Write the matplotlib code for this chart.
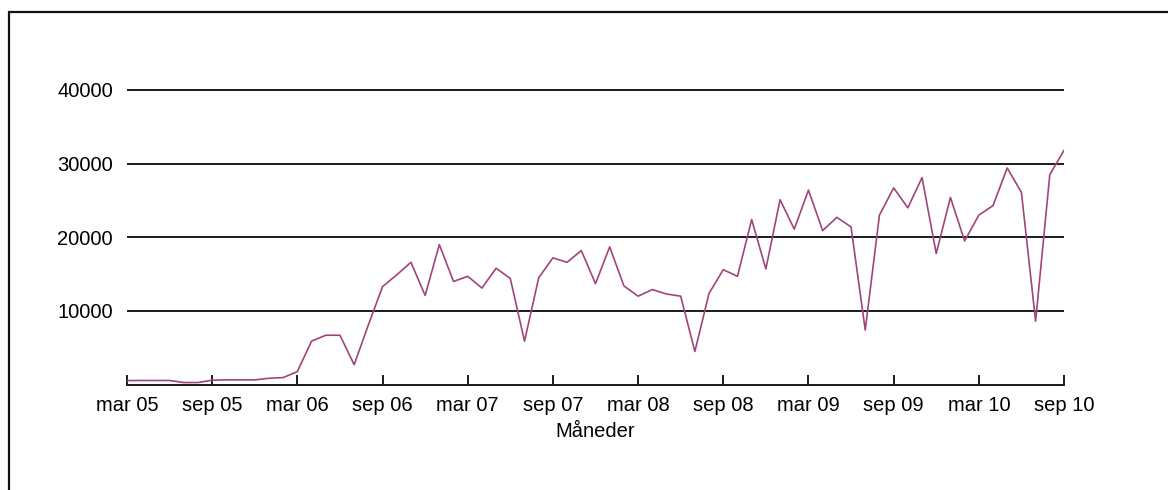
import numpy as np
import matplotlib
matplotlib.use("Agg")
import matplotlib.pyplot as plt
from matplotlib.patches import Rectangle

plt.rcParams['font.family'] = ['Liberation Sans', 'DejaVu Sans']

#   monthly values, mar 05 .. sep 10
values = [540, 560, 560, 560, 280, 280, 600, 640, 640, 640,
          860, 950, 1770, 5900, 6700, 6700, 2700, 8100, 13300, 14900,
          16600, 12100, 19000, 14000, 14700, 13100, 15800, 14400, 5900, 14500,
          17200, 16600, 18200, 13700, 18700, 13400, 12000, 12900, 12300, 12000,
          4500, 12400, 15600, 14700, 22400, 15700, 25100, 21100, 26400, 20900,
          22700, 21400, 7400, 23000, 26700, 24000, 28100, 17800, 25400, 19500,
          23000, 24300, 29400, 26100, 8600, 28500, 31800]
tick_labels = ["mar 05", "sep 05", "mar 06", "sep 06", "mar 07", "sep 07",
               "mar 08", "sep 08", "mar 09", "sep 09", "mar 10", "sep 10"]
y_ticks = [10000, 20000, 30000, 40000]
x_label = "Måneder"


def main():
    W, H = 1168, 490
    fig = plt.figure(figsize=(W / 100, H / 100), dpi=100)

    #   outer frame, runs off the right and bottom edge
    fig.add_artist(Rectangle((8.5 / W, -0.1), 1.2, (H - 12.5) / H + 0.1,
                             transform=fig.transFigure, fill=False,
                             edgecolor='#111111', linewidth=1.6))

    y_top = 42000
    px_per = 73.67 / 10000
    zero_y = 384.6
    top_y = zero_y - y_top * px_per
    ax = fig.add_axes([127 / W, 1 - zero_y / H, (1064 - 127) / W, (zero_y - top_y) / H])

    x = np.arange(len(values))
    for v in y_ticks:
        ax.axhline(v, color='#1a1a1a', linewidth=1.4, zorder=1)
    ax.plot(x, values, color='#a0457a', linewidth=1.2, zorder=3)

    ax.set_xlim(0, len(values) - 1)
    ax.set_ylim(0, y_top)
    ax.set_xticks(np.arange(0, len(values), 6))
    ax.set_xticklabels(tick_labels)
    ax.set_yticks(y_ticks)
    ax.set_yticklabels([str(v) for v in y_ticks])

    for side in ['top', 'right', 'left']:
        ax.spines[side].set_visible(False)
    ax.spines['bottom'].set_linewidth(1.4)
    ax.spines['bottom'].set_color('#1a1a1a')

    ax.tick_params(axis='x', direction='in', length=7.5, width=1.4,
                   color='#1a1a1a', labelsize=14.5, pad=8.5)
    ax.tick_params(axis='y', length=0, labelsize=14.5, pad=10)
    ax.set_xlabel(x_label, fontsize=14.5, labelpad=4.5)

    fig.savefig('out.png', dpi=100)


if __name__ == "__main__":
    main()
